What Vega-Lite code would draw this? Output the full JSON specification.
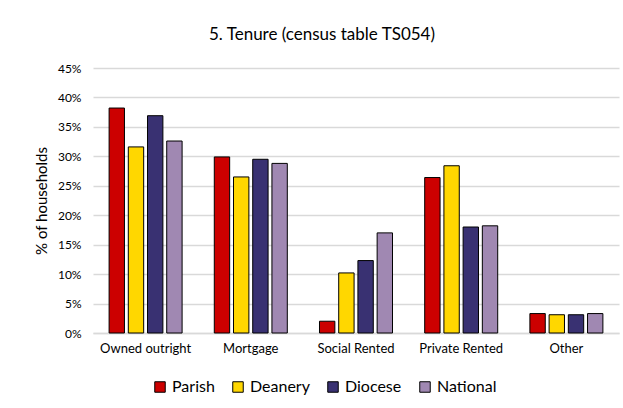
{
  "$schema": "https://vega.github.io/schema/vega-lite/v6.json",
  "width": 526,
  "height": 265,
  "autosize": "none",
  "padding": {"left": 93, "top": 68, "right": 4, "bottom": 75},
  "background": "white",
  "title": {
    "text": "5. Tenure (census table TS054)",
    "font": "Lato",
    "fontSize": 17,
    "fontWeight": "normal",
    "color": "#000000",
    "anchor": "middle",
    "frame": "group",
    "dx": -34,
    "offset": 18
  },
  "data": {
    "values": [
      {"tenure": "Owned outright", "area": "Parish", "share": 0.382},
      {"tenure": "Owned outright", "area": "Deanery", "share": 0.316},
      {"tenure": "Owned outright", "area": "Diocese", "share": 0.369},
      {"tenure": "Owned outright", "area": "National", "share": 0.326},
      {"tenure": "Mortgage", "area": "Parish", "share": 0.299},
      {"tenure": "Mortgage", "area": "Deanery", "share": 0.265},
      {"tenure": "Mortgage", "area": "Diocese", "share": 0.295},
      {"tenure": "Mortgage", "area": "National", "share": 0.288},
      {"tenure": "Social Rented", "area": "Parish", "share": 0.020},
      {"tenure": "Social Rented", "area": "Deanery", "share": 0.102},
      {"tenure": "Social Rented", "area": "Diocese", "share": 0.123},
      {"tenure": "Social Rented", "area": "National", "share": 0.170},
      {"tenure": "Private Rented", "area": "Parish", "share": 0.264},
      {"tenure": "Private Rented", "area": "Deanery", "share": 0.284},
      {"tenure": "Private Rented", "area": "Diocese", "share": 0.180},
      {"tenure": "Private Rented", "area": "National", "share": 0.182},
      {"tenure": "Other", "area": "Parish", "share": 0.033},
      {"tenure": "Other", "area": "Deanery", "share": 0.031},
      {"tenure": "Other", "area": "Diocese", "share": 0.031},
      {"tenure": "Other", "area": "National", "share": 0.033}
    ]
  },
  "mark": {"type": "bar", "stroke": "#000000", "strokeWidth": 1},
  "encoding": {
    "x": {
      "field": "tenure",
      "type": "nominal",
      "sort": ["Owned outright", "Mortgage", "Social Rented", "Private Rented", "Other"],
      "scale": {"paddingInner": 0.306, "paddingOuter": 0.153},
      "axis": {
        "title": null,
        "labelAngle": 0,
        "labelFont": "Lato",
        "labelFontSize": 13,
        "labelColor": "#000000",
        "labelPadding": 9,
        "ticks": false,
        "domainColor": "#D9D9D9",
        "domainWidth": 1.5
      }
    },
    "xOffset": {
      "field": "area",
      "type": "nominal",
      "sort": ["Parish", "Deanery", "Diocese", "National"],
      "scale": {"paddingInner": 0.2, "paddingOuter": 0}
    },
    "y": {
      "field": "share",
      "type": "quantitative",
      "scale": {"domain": [0, 0.45]},
      "axis": {
        "title": "% of households",
        "titleFont": "Lato",
        "titleFontSize": 15,
        "titleFontWeight": "normal",
        "titleColor": "#000000",
        "titlePadding": 8,
        "format": ".0%",
        "values": [0, 0.05, 0.1, 0.15, 0.2, 0.25, 0.3, 0.35, 0.4, 0.45],
        "labelFont": "Lato",
        "labelFontSize": 12,
        "labelColor": "#000000",
        "labelPadding": 12,
        "ticks": false,
        "domain": false,
        "grid": true,
        "gridColor": "#D9D9D9",
        "gridWidth": 1.5
      }
    },
    "color": {
      "field": "area",
      "type": "nominal",
      "sort": ["Parish", "Deanery", "Diocese", "National"],
      "scale": {
        "domain": ["Parish", "Deanery", "Diocese", "National"],
        "range": ["#CC0000", "#FFD700", "#393172", "#A088B2"]
      },
      "legend": {
        "title": null,
        "orient": "none",
        "direction": "horizontal",
        "legendX": 59,
        "legendY": 311,
        "symbolType": "square",
        "symbolSize": 110,
        "symbolStrokeColor": "#000000",
        "symbolStrokeWidth": 1,
        "labelFont": "Lato",
        "labelFontSize": 16,
        "labelColor": "#000000",
        "labelOffset": 4,
        "columnPadding": 15
      }
    }
  },
  "config": {
    "view": {"stroke": null}
  }
}
